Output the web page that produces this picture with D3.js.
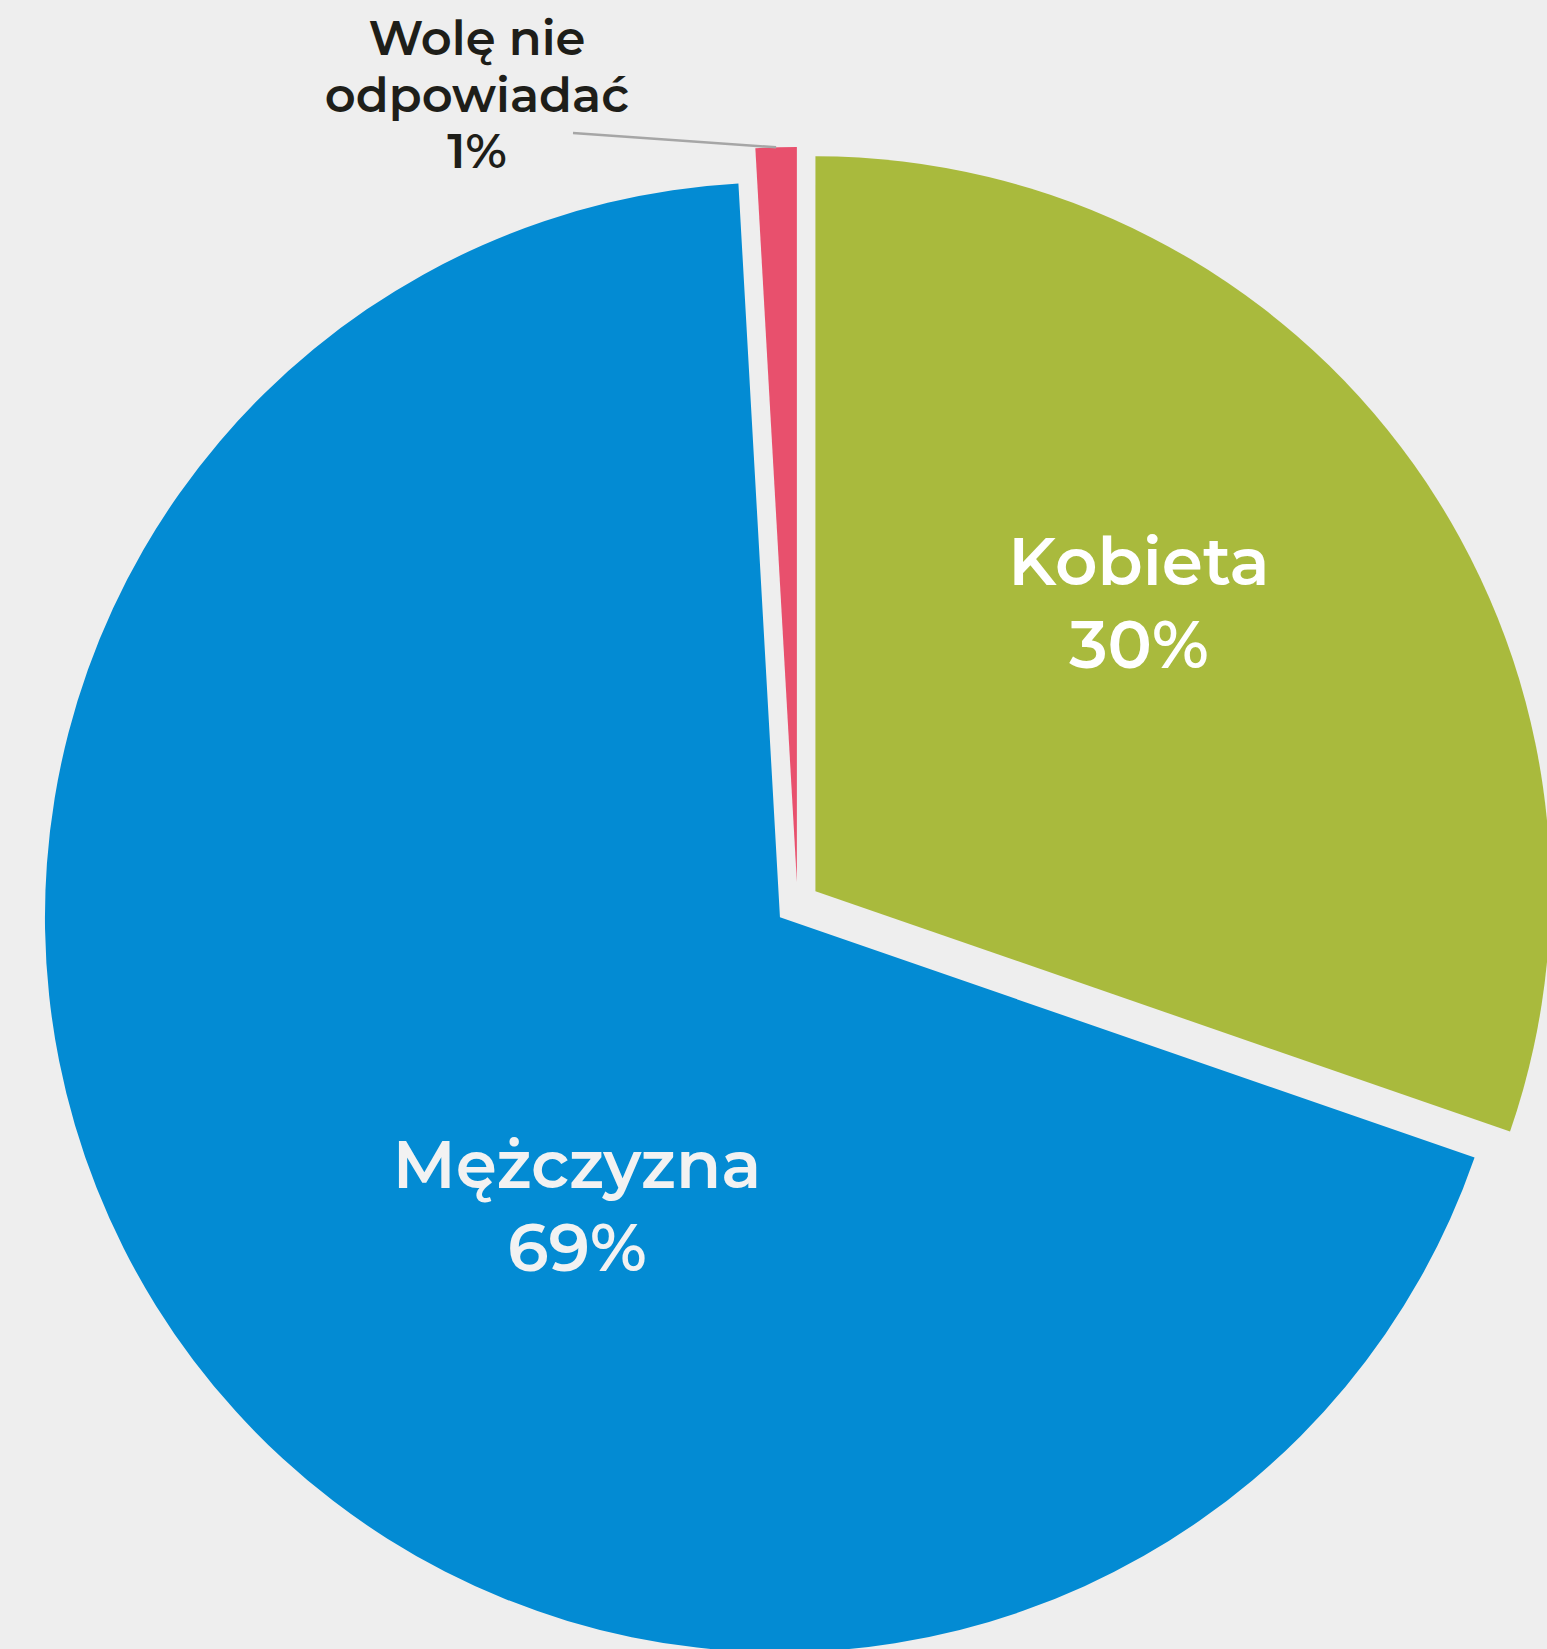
<!DOCTYPE html>
<html>
<head>
<meta charset="utf-8">
<script src="https://cdn.jsdelivr.net/npm/d3@7"></script>
<style>
  html, body { margin: 0; padding: 0; background: #eeeeee; }
  svg { display: block; }
</style>
</head>
<body>
<script>
// ---- data ----
const categories = ["Kobieta", "Mężczyzna", "Wolę nie odpowiadać"];
const values = [30.3, 68.8, 0.9];
const colors = ["#a9ba3d", "#038bd3", "#e8506d"];
const labelLines = [["Kobieta"], ["Mężczyzna"], ["Wolę nie", "odpowiadać"]];

// ---- layout ----
const W = 1547, H = 1649;
const cx = 797.5, cy = 904, R = 735, explode = 22;

const svg = d3.select("body").append("svg").attr("width", W).attr("height", H);
svg.append("rect").attr("width", W).attr("height", H).attr("fill", "#eeeeee");

const data = categories.map((c, i) => ({ name: c, value: values[i], color: colors[i], lines: labelLines[i] }));
const pie = d3.pie().sort(null).value(d => d.value);
const arcs = pie(data);
const arc = d3.arc().innerRadius(0).outerRadius(R);
const total = d3.sum(values);
const pct = v => Math.round(v / total * 100) + "%";

function offset(d, dist) {
  const a = (d.startAngle + d.endAngle) / 2;
  return [Math.sin(a) * dist, -Math.cos(a) * dist];
}

const g = svg.append("g").attr("transform", `translate(${cx},${cy})`);

g.selectAll("path.slice").data(arcs).join("path")
  .attr("class", "slice")
  .attr("d", arc)
  .attr("fill", d => d.data.color)
  .attr("transform", d => { const [x, y] = offset(d, explode); return `translate(${x},${y})`; });

// inside labels (large slices)
const font = "Montserrat, Inter, 'Open Sans', sans-serif";
const insidePos = [[341.5, -302], [-220.5, 301]];
[0, 1].forEach(i => {
  const d = arcs[i];
  const [x, y] = insidePos[i];
  const t = g.append("text")
    .attr("x", x).attr("y", y)
    .attr("text-anchor", "middle")
    .attr("font-family", font)
    .attr("font-weight", 600)
    .attr("font-size", 66)
    .attr("fill", i === 0 ? "#ffffff" : "#f2f2f2");
  const lines = d.data.lines.concat([pct(d.data.value)]);
  t.selectAll("tspan").data(lines).join("tspan")
    .attr("x", x)
    .attr("y", (l, k) => y - 17 + k * 83)
    .text(l => l);
});

// outside label for small slice
const small = arcs[2];
const [ox, oy] = offset(small, explode);
const a = (small.startAngle + small.endAngle) / 2;
const edge = [ox + Math.sin(a) * R, oy - Math.cos(a) * R];
const lx = 477 - cx;
g.append("path")
  .attr("d", d3.line()([[573 - cx, 133 - cy], edge]))
  .attr("stroke", "#a6a6a6").attr("stroke-width", 2.5).attr("fill", "none");

const ot = g.append("text")
  .attr("text-anchor", "middle")
  .attr("font-family", font)
  .attr("font-weight", 600)
  .attr("font-size", 48)
  .attr("fill", "#1e1e19");
ot.selectAll("tspan").data(small.data.lines.concat([pct(small.data.value)])).join("tspan")
  .attr("x", lx)
  .attr("y", (l, k) => 55 - cy + k * 56.5)
  .text(l => l);
</script>
</body>
</html>
